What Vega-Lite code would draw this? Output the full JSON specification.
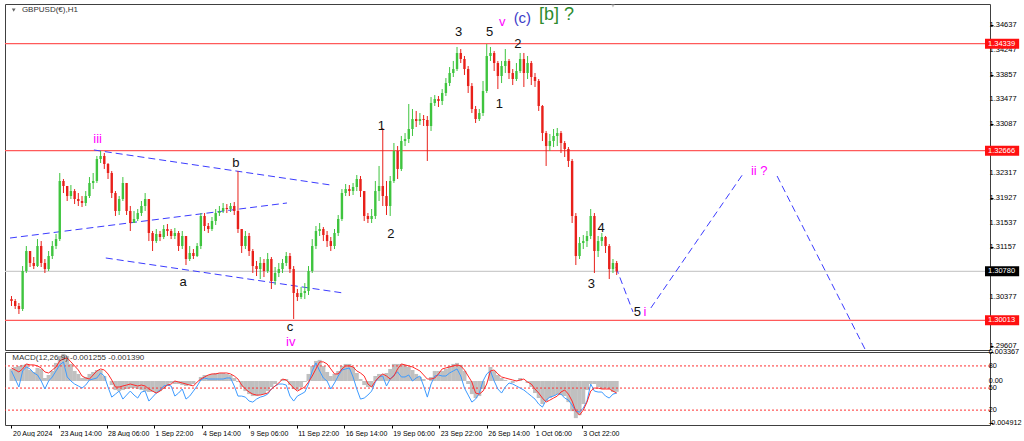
{
"$schema": "https://vega.github.io/schema/vega-lite/v6.json",
"background": "white",
"padding": {"left": 3, "top": 3, "right": 0, "bottom": 0},
"spacing": 2,
"bounds": "flush",
"config": {"view": {"stroke": "#404040", "strokeWidth": 1}, "font": "Liberation Sans",
"axis": {"title": null, "domain": false, "grid": false, "tickSize": 3, "tickColor": "#000000", "labelFontSize": 7.5, "labelColor": "#000000", "labelFont": "Liberation Sans", "zindex": 0}},
"datasets": {
"px": [
{"i":0,"o":1.30346,"h":1.30393,"l":1.30237,"c":1.30315,"m":0.0014,"s":0.00152,"b":0.00117},
{"i":5,"o":1.30315,"h":1.30346,"l":1.3019,"c":1.30237,"m":0.00163,"s":0.00128,"b":0.00023},
{"i":10,"o":1.30237,"h":1.30284,"l":1.30112,"c":1.3019,"m":0.00175,"s":0.00105,"b":-0.0007},
{"i":15,"o":1.3019,"h":1.30862,"l":1.30159,"c":1.30784,"m":0.00187,"s":0.0014,"b":0.00117},
{"i":20,"o":1.30784,"h":1.31175,"l":1.30753,"c":1.31097,"m":0.00198,"s":0.00198,"b":0.00163},
{"i":25,"o":1.31097,"h":1.31097,"l":1.30847,"c":1.3091,"m":0.00128,"s":0.00187,"b":0.0014},
{"i":30,"o":1.3091,"h":1.31003,"l":1.30815,"c":1.30862,"m":0.00105,"s":0.00187,"b":0.00093},
{"i":35,"o":1.30862,"h":1.31284,"l":1.30847,"c":1.31175,"m":0.00152,"s":0.00175,"b":0.0007},
{"i":40,"o":1.31175,"h":1.31253,"l":1.30847,"c":1.3091,"m":0.0014,"s":0.00152,"b":0},
{"i":45,"o":1.3091,"h":1.30972,"l":1.30753,"c":1.30815,"m":0.00035,"s":0.00105,"b":-0.00093},
{"i":50,"o":1.30815,"h":1.31097,"l":1.30784,"c":1.31019,"m":0.0007,"s":0.00093,"b":0},
{"i":55,"o":1.31019,"h":1.31253,"l":1.30972,"c":1.31175,"m":0.00117,"s":0.00128,"b":0.00047},
{"i":60,"o":1.31175,"h":1.31363,"l":1.31128,"c":1.31284,"m":0.0021,"s":0.00163,"b":0.00117},
{"i":65,"o":1.31284,"h":1.32317,"l":1.31253,"c":1.32192,"m":0.00292,"s":0.00233,"b":0.00187},
{"i":70,"o":1.32192,"h":1.32223,"l":1.32004,"c":1.32114,"m":0.00315,"s":0.00257,"b":0.00222},
{"i":75,"o":1.32114,"h":1.32114,"l":1.31879,"c":1.31957,"m":0.00292,"s":0.00268,"b":0.00047},
{"i":80,"o":1.31957,"h":1.32129,"l":1.3191,"c":1.32035,"m":0.00198,"s":0.00222,"b":0},
{"i":85,"o":1.32035,"h":1.32066,"l":1.31832,"c":1.3191,"m":0.00117,"s":0.00175,"b":-0.00035},
{"i":90,"o":1.3191,"h":1.32004,"l":1.31801,"c":1.31879,"m":0.00082,"s":0.00128,"b":-0.00058},
{"i":95,"o":1.31879,"h":1.31957,"l":1.31785,"c":1.31848,"m":0.00035,"s":0.00058,"b":-0.00082},
{"i":100,"o":1.31848,"h":1.32035,"l":1.31801,"c":1.31957,"m":0.00047,"s":0.00035,"b":-0.00047},
{"i":105,"o":1.31957,"h":1.32254,"l":1.31926,"c":1.32161,"m":0.00082,"s":0.00023,"b":0.00012},
{"i":110,"o":1.32161,"h":1.32317,"l":1.32066,"c":1.32192,"m":0.00105,"s":0.0007,"b":0.00023},
{"i":115,"o":1.32192,"h":1.32583,"l":1.32161,"c":1.32536,"m":0.00128,"s":0.00117,"b":0.00035},
{"i":120,"o":1.32536,"h":1.32661,"l":1.32473,"c":1.32583,"m":0.00128,"s":0.0014,"b":0.00093},
{"i":125,"o":1.32583,"h":1.3263,"l":1.3238,"c":1.32458,"m":0.00058,"s":0.00128,"b":0.00058},
{"i":130,"o":1.32458,"h":1.32473,"l":1.32223,"c":1.32317,"m":0,"s":0.00082,"b":-0.0007},
{"i":135,"o":1.32317,"h":1.32348,"l":1.31926,"c":1.32004,"m":-0.00047,"s":0.00012,"b":-0.00187},
{"i":140,"o":1.32004,"h":1.32035,"l":1.31645,"c":1.31723,"m":-0.00105,"s":-0.0007,"b":-0.00152},
{"i":145,"o":1.31723,"h":1.31957,"l":1.3166,"c":1.3191,"m":-0.00117,"s":-0.0007,"b":-0.00117},
{"i":150,"o":1.3191,"h":1.32254,"l":1.31879,"c":1.32161,"m":-0.00105,"s":-0.00058,"b":-0.0021},
{"i":155,"o":1.32161,"h":1.32161,"l":1.3166,"c":1.31723,"m":-0.00093,"s":-0.00047,"b":-0.00163},
{"i":160,"o":1.31723,"h":1.31801,"l":1.3141,"c":1.31535,"m":-0.00082,"s":-0.00035,"b":-0.00117},
{"i":165,"o":1.31535,"h":1.31723,"l":1.31535,"c":1.31598,"m":-0.00082,"s":-0.00047,"b":-0.00163},
{"i":170,"o":1.31598,"h":1.31754,"l":1.31566,"c":1.31691,"m":-0.00093,"s":-0.00058,"b":-0.00198},
{"i":175,"o":1.31691,"h":1.31879,"l":1.31645,"c":1.31801,"m":-0.00105,"s":-0.00047,"b":-0.00128},
{"i":180,"o":1.31801,"h":1.32004,"l":1.31723,"c":1.3191,"m":-0.00117,"s":-0.00058,"b":-0.00117},
{"i":185,"o":1.3191,"h":1.3191,"l":1.31253,"c":1.31379,"m":-0.00128,"s":-0.00093,"b":-0.00233},
{"i":190,"o":1.31379,"h":1.3141,"l":1.31097,"c":1.31253,"m":-0.00128,"s":-0.00117,"b":-0.00187},
{"i":195,"o":1.31253,"h":1.31441,"l":1.31222,"c":1.31363,"m":-0.0014,"s":-0.0014,"b":-0.0014},
{"i":200,"o":1.31363,"h":1.3141,"l":1.31253,"c":1.31316,"m":-0.00117,"s":-0.00117,"b":-0.00105},
{"i":205,"o":1.31316,"h":1.31504,"l":1.31284,"c":1.31441,"m":-0.00093,"s":-0.00082,"b":-0.00058},
{"i":210,"o":1.31441,"h":1.31519,"l":1.31332,"c":1.3141,"m":-0.00058,"s":-0.00047,"b":-0.00047},
{"i":215,"o":1.3141,"h":1.31441,"l":1.31284,"c":1.31332,"m":-0.00023,"s":-0.00035,"b":-0.00058},
{"i":220,"o":1.31332,"h":1.31457,"l":1.31284,"c":1.31379,"m":-0.00035,"s":0,"b":-0.00175},
{"i":225,"o":1.31379,"h":1.3141,"l":1.31097,"c":1.31175,"m":-0.00035,"s":-0.00012,"b":-0.0014},
{"i":230,"o":1.31175,"h":1.3141,"l":1.31128,"c":1.31332,"m":-0.00047,"s":-0.00023,"b":-0.00093},
{"i":235,"o":1.31332,"h":1.31332,"l":1.30878,"c":1.30972,"m":-0.00058,"s":-0.00035,"b":-0.0021},
{"i":240,"o":1.30972,"h":1.31175,"l":1.30941,"c":1.31066,"m":-0.00047,"s":-0.00047,"b":-0.00175},
{"i":245,"o":1.31066,"h":1.31128,"l":1.30972,"c":1.31019,"m":-0.00035,"s":-0.00058,"b":-0.00117},
{"i":250,"o":1.31019,"h":1.31222,"l":1.31003,"c":1.31175,"m":0,"s":-0.00012,"b":-0.00058},
{"i":255,"o":1.31175,"h":1.31691,"l":1.31128,"c":1.31645,"m":0.00047,"s":0.00023,"b":0.00012},
{"i":260,"o":1.31645,"h":1.31691,"l":1.3141,"c":1.31488,"m":0.0007,"s":0.00047,"b":0.00035},
{"i":265,"o":1.31488,"h":1.31535,"l":1.31379,"c":1.31441,"m":0.0007,"s":0.0007,"b":0.00023},
{"i":270,"o":1.31441,"h":1.31629,"l":1.3141,"c":1.31566,"m":0.00082,"s":0.00082,"b":0.00023},
{"i":275,"o":1.31566,"h":1.31754,"l":1.31504,"c":1.31691,"m":0.00093,"s":0.00082,"b":0.00023},
{"i":280,"o":1.31691,"h":1.31801,"l":1.31645,"c":1.31723,"m":0.00093,"s":0.00093,"b":0.00023},
{"i":285,"o":1.31723,"h":1.31848,"l":1.31691,"c":1.3177,"m":0.00093,"s":0.00093,"b":0.00023},
{"i":290,"o":1.3177,"h":1.31832,"l":1.31691,"c":1.31754,"m":0.00082,"s":0.00093,"b":0.00035},
{"i":295,"o":1.31754,"h":1.31848,"l":1.31707,"c":1.31801,"m":0.0007,"s":0.00082,"b":0.00035},
{"i":300,"o":1.31801,"h":1.31863,"l":1.3166,"c":1.31723,"m":0.00035,"s":0.00058,"b":-0.00058},
{"i":305,"o":1.31723,"h":1.32348,"l":1.31379,"c":1.31441,"m":-0.00012,"s":0.00023,"b":-0.00175},
{"i":310,"o":1.31441,"h":1.31441,"l":1.31066,"c":1.31175,"m":-0.0007,"s":-0.00047,"b":-0.00175},
{"i":315,"o":1.31175,"h":1.3141,"l":1.31128,"c":1.31332,"m":-0.00117,"s":-0.00093,"b":-0.00187},
{"i":320,"o":1.31332,"h":1.31379,"l":1.31019,"c":1.31097,"m":-0.00152,"s":-0.00128,"b":-0.00233},
{"i":325,"o":1.31097,"h":1.31128,"l":1.30753,"c":1.30862,"m":-0.00175,"s":-0.00152,"b":-0.00245},
{"i":330,"o":1.30862,"h":1.30941,"l":1.30706,"c":1.30815,"m":-0.00175,"s":-0.00163,"b":-0.0021},
{"i":335,"o":1.30815,"h":1.31003,"l":1.30659,"c":1.3091,"m":-0.00163,"s":-0.00163,"b":-0.00187},
{"i":340,"o":1.3091,"h":1.30972,"l":1.3069,"c":1.30784,"m":-0.00152,"s":-0.00152,"b":-0.00175},
{"i":345,"o":1.30784,"h":1.31066,"l":1.30753,"c":1.30972,"m":-0.00117,"s":-0.0014,"b":-0.00152},
{"i":350,"o":1.30972,"h":1.31003,"l":1.30503,"c":1.30628,"m":-0.0007,"s":-0.00093,"b":-0.00093},
{"i":355,"o":1.30628,"h":1.30847,"l":1.30565,"c":1.30753,"m":-0.00035,"s":-0.00058,"b":-0.00058},
{"i":360,"o":1.30753,"h":1.3091,"l":1.3069,"c":1.30815,"m":0,"s":-0.00023,"b":-0.00035},
{"i":365,"o":1.30815,"h":1.30972,"l":1.30753,"c":1.3091,"m":0.00023,"s":0.00023,"b":-0.00035},
{"i":370,"o":1.3091,"h":1.31081,"l":1.30862,"c":1.31019,"m":0.00023,"s":0.00012,"b":-0.00047},
{"i":375,"o":1.31019,"h":1.31066,"l":1.30753,"c":1.30815,"m":-0.00047,"s":-0.00035,"b":-0.00175},
{"i":380,"o":1.30815,"h":1.30862,"l":1.30034,"c":1.3044,"m":-0.00093,"s":-0.00082,"b":-0.00233},
{"i":385,"o":1.3044,"h":1.30503,"l":1.30315,"c":1.30378,"m":-0.00105,"s":-0.00117,"b":-0.00175},
{"i":390,"o":1.30378,"h":1.30534,"l":1.30346,"c":1.3044,"m":-0.0007,"s":-0.00093,"b":-0.00152},
{"i":395,"o":1.3044,"h":1.30596,"l":1.30346,"c":1.30471,"m":-0.00012,"s":-0.0007,"b":-0.00128},
{"i":400,"o":1.30471,"h":1.30862,"l":1.30409,"c":1.30784,"m":0.00082,"s":-0.00012,"b":-0.00035},
{"i":405,"o":1.30784,"h":1.31284,"l":1.30753,"c":1.31175,"m":0.00175,"s":0.00058,"b":0.00117},
{"i":410,"o":1.31175,"h":1.31488,"l":1.31128,"c":1.3141,"m":0.00233,"s":0.0014,"b":0.0021},
{"i":415,"o":1.3141,"h":1.31535,"l":1.31332,"c":1.31441,"m":0.00245,"s":0.00222,"b":0.00117},
{"i":420,"o":1.31441,"h":1.31472,"l":1.31253,"c":1.31347,"m":0.00175,"s":0.00222,"b":0.00035},
{"i":425,"o":1.31347,"h":1.3141,"l":1.3116,"c":1.31253,"m":0.00105,"s":0.00198,"b":0},
{"i":430,"o":1.31253,"h":1.31316,"l":1.31097,"c":1.31175,"m":0.00058,"s":0.0014,"b":-0.00093},
{"i":435,"o":1.31175,"h":1.31441,"l":1.31128,"c":1.31379,"m":0.00082,"s":0.00082,"b":-0.00023},
{"i":440,"o":1.31379,"h":1.3166,"l":1.31332,"c":1.31598,"m":0.00117,"s":0.00082,"b":0.00058},
{"i":445,"o":1.31598,"h":1.32066,"l":1.31566,"c":1.32004,"m":0.00175,"s":0.0014,"b":0.00128},
{"i":450,"o":1.32004,"h":1.32145,"l":1.31957,"c":1.32066,"m":0.00198,"s":0.00175,"b":0.0014},
{"i":455,"o":1.32066,"h":1.32129,"l":1.31957,"c":1.32035,"m":0.00198,"s":0.00175,"b":0.00152},
{"i":460,"o":1.32035,"h":1.32161,"l":1.31973,"c":1.32098,"m":0.00163,"s":0.00163,"b":0.00047},
{"i":465,"o":1.32098,"h":1.32286,"l":1.32035,"c":1.32223,"m":0.00093,"s":0.00117,"b":-0.00093},
{"i":470,"o":1.32223,"h":1.3227,"l":1.31941,"c":1.32035,"m":0.00023,"s":0.00093,"b":-0.0021},
{"i":475,"o":1.32035,"h":1.32035,"l":1.31566,"c":1.31645,"m":-0.00047,"s":0.00058,"b":-0.00198},
{"i":480,"o":1.31645,"h":1.31691,"l":1.31535,"c":1.31598,"m":-0.0007,"s":-0.00035,"b":-0.00163},
{"i":485,"o":1.31598,"h":1.31754,"l":1.31535,"c":1.31645,"m":-0.0007,"s":-0.0007,"b":-0.00117},
{"i":490,"o":1.31645,"h":1.32192,"l":1.31598,"c":1.32035,"m":0.00058,"s":0,"b":-0.00012},
{"i":495,"o":1.32035,"h":1.32427,"l":1.31879,"c":1.32114,"m":0.00082,"s":0.00047,"b":0.00047},
{"i":500,"o":1.32114,"h":1.33021,"l":1.31801,"c":1.31957,"m":0.00082,"s":0.00082,"b":0.00058},
{"i":505,"o":1.31957,"h":1.32192,"l":1.3166,"c":1.31801,"m":0.00093,"s":0.00058,"b":-0.00058},
{"i":510,"o":1.31801,"h":1.3227,"l":1.31645,"c":1.32192,"m":0.0014,"s":0.00023,"b":0.00023},
{"i":515,"o":1.32192,"h":1.32786,"l":1.32161,"c":1.32661,"m":0.00198,"s":0.00058,"b":0.0007},
{"i":520,"o":1.32661,"h":1.32739,"l":1.32223,"c":1.3238,"m":0.00198,"s":0.0014,"b":0.00105},
{"i":525,"o":1.3238,"h":1.32896,"l":1.32348,"c":1.32817,"m":0.00198,"s":0.00198,"b":0.00047},
{"i":530,"o":1.32817,"h":1.32942,"l":1.32739,"c":1.32849,"m":0.00187,"s":0.00187,"b":0.00047},
{"i":535,"o":1.32849,"h":1.33396,"l":1.32786,"c":1.33005,"m":0.00163,"s":0.00175,"b":0.0007},
{"i":540,"o":1.33005,"h":1.33318,"l":1.32896,"c":1.33161,"m":0.00128,"s":0.00163,"b":0},
{"i":545,"o":1.33161,"h":1.33287,"l":1.33036,"c":1.3313,"m":0.00082,"s":0.0014,"b":0.00035},
{"i":550,"o":1.3313,"h":1.33255,"l":1.33068,"c":1.33161,"m":0.00047,"s":0.00117,"b":0.00058},
{"i":555,"o":1.33161,"h":1.33224,"l":1.33052,"c":1.33146,"m":0.00023,"s":0.0007,"b":-0.00058},
{"i":560,"o":1.33146,"h":1.33208,"l":1.32505,"c":1.33052,"m":0,"s":0.00023,"b":-0.00187},
{"i":565,"o":1.33052,"h":1.33505,"l":1.32974,"c":1.33411,"m":0.00047,"s":0.00023,"b":-0.00035},
{"i":570,"o":1.33411,"h":1.33536,"l":1.33365,"c":1.33474,"m":0.00117,"s":0.00035,"b":0.00058},
{"i":575,"o":1.33474,"h":1.33521,"l":1.33349,"c":1.33443,"m":0.00117,"s":0.00082,"b":0.0007},
{"i":580,"o":1.33443,"h":1.3363,"l":1.3338,"c":1.33568,"m":0.00117,"s":0.0014,"b":0.00058},
{"i":585,"o":1.33568,"h":1.33802,"l":1.33521,"c":1.33724,"m":0.0014,"s":0.00152,"b":0.00058},
{"i":590,"o":1.33724,"h":1.33974,"l":1.33677,"c":1.33881,"m":0.00175,"s":0.00163,"b":0.00093},
{"i":595,"o":1.33881,"h":1.34069,"l":1.33818,"c":1.33943,"m":0.00198,"s":0.00175,"b":0.00117},
{"i":600,"o":1.33943,"h":1.34288,"l":1.33912,"c":1.34194,"m":0.0021,"s":0.00187,"b":0.0014},
{"i":605,"o":1.34194,"h":1.34256,"l":1.34037,"c":1.341,"m":0.00187,"s":0.00175,"b":0.00058},
{"i":610,"o":1.341,"h":1.34147,"l":1.3385,"c":1.33943,"m":0.00117,"s":0.00128,"b":-0.00082},
{"i":615,"o":1.33943,"h":1.3399,"l":1.33568,"c":1.33677,"m":-0.00035,"s":0.00058,"b":-0.00163},
{"i":620,"o":1.33677,"h":1.33724,"l":1.33255,"c":1.33318,"m":-0.00152,"s":-0.00012,"b":-0.00245},
{"i":625,"o":1.33318,"h":1.33365,"l":1.33099,"c":1.33161,"m":-0.00198,"s":-0.0014,"b":-0.0021},
{"i":630,"o":1.33161,"h":1.33318,"l":1.3313,"c":1.33255,"m":-0.00175,"s":-0.00152,"b":-0.0014},
{"i":635,"o":1.33255,"h":1.33756,"l":1.33208,"c":1.33599,"m":-0.00093,"s":-0.00117,"b":0},
{"i":640,"o":1.33599,"h":1.34334,"l":1.33568,"c":1.34147,"m":0,"s":-0.00035,"b":0.00082},
{"i":645,"o":1.34147,"h":1.34288,"l":1.34069,"c":1.34194,"m":0.00163,"s":0.00117,"b":0.00117},
{"i":650,"o":1.34194,"h":1.34225,"l":1.33912,"c":1.34037,"m":0.00117,"s":0.00128,"b":0},
{"i":655,"o":1.34037,"h":1.34069,"l":1.3363,"c":1.33834,"m":0.0007,"s":0.00082,"b":-0.00093},
{"i":660,"o":1.33834,"h":1.34069,"l":1.33724,"c":1.3399,"m":0.00035,"s":0.00047,"b":-0.0014},
{"i":665,"o":1.3399,"h":1.34256,"l":1.33881,"c":1.34069,"m":0.00012,"s":0.00035,"b":-0.0007},
{"i":670,"o":1.34069,"h":1.341,"l":1.33787,"c":1.33881,"m":0,"s":0.00023,"b":-0.00023},
{"i":675,"o":1.33881,"h":1.33943,"l":1.33693,"c":1.33787,"m":-0.00023,"s":0.00012,"b":-0.00035},
{"i":680,"o":1.33787,"h":1.34037,"l":1.33756,"c":1.33912,"m":0.00012,"s":0,"b":-0.00058},
{"i":685,"o":1.33912,"h":1.34194,"l":1.33881,"c":1.341,"m":0.00035,"s":0.00012,"b":-0.00082},
{"i":690,"o":1.341,"h":1.34194,"l":1.33662,"c":1.33881,"m":0,"s":0.00023,"b":-0.00105},
{"i":695,"o":1.33881,"h":1.34147,"l":1.33787,"c":1.34037,"m":-0.00023,"s":-0.00012,"b":-0.0014},
{"i":700,"o":1.34037,"h":1.34069,"l":1.33693,"c":1.33818,"m":-0.0007,"s":-0.00035,"b":-0.00175},
{"i":705,"o":1.33818,"h":1.33881,"l":1.33662,"c":1.33756,"m":-0.0014,"s":-0.00093,"b":-0.0021},
{"i":710,"o":1.33756,"h":1.33787,"l":1.33287,"c":1.33365,"m":-0.00198,"s":-0.0014,"b":-0.00268},
{"i":715,"o":1.33365,"h":1.3338,"l":1.32817,"c":1.32942,"m":-0.00268,"s":-0.00198,"b":-0.00303},
{"i":720,"o":1.32942,"h":1.32974,"l":1.32427,"c":1.32739,"m":-0.00233,"s":-0.00245,"b":-0.00222},
{"i":725,"o":1.32739,"h":1.32927,"l":1.32661,"c":1.32817,"m":-0.00198,"s":-0.00222,"b":-0.00187},
{"i":730,"o":1.32817,"h":1.33005,"l":1.32723,"c":1.32896,"m":-0.00175,"s":-0.00198,"b":-0.00175},
{"i":735,"o":1.32896,"h":1.33021,"l":1.32739,"c":1.32942,"m":-0.00152,"s":-0.00175,"b":-0.00152},
{"i":740,"o":1.32942,"h":1.32974,"l":1.3263,"c":1.32786,"m":-0.00163,"s":-0.00128,"b":-0.00152},
{"i":745,"o":1.32786,"h":1.32817,"l":1.32567,"c":1.32692,"m":-0.00175,"s":-0.00105,"b":-0.00198},
{"i":750,"o":1.32692,"h":1.32723,"l":1.32411,"c":1.32505,"m":-0.00245,"s":-0.00152,"b":-0.00222},
{"i":755,"o":1.32505,"h":1.32536,"l":1.31535,"c":1.31645,"m":-0.0035,"s":-0.00233,"b":-0.0028},
{"i":760,"o":1.31645,"h":1.31691,"l":1.30878,"c":1.31019,"m":-0.00431,"s":-0.0035,"b":-0.0035},
{"i":765,"o":1.31019,"h":1.31316,"l":1.30972,"c":1.31222,"m":-0.00396,"s":-0.00396,"b":-0.00361},
{"i":770,"o":1.31222,"h":1.31347,"l":1.31128,"c":1.31253,"m":-0.00268,"s":-0.00338,"b":-0.00315},
{"i":775,"o":1.31253,"h":1.3141,"l":1.3116,"c":1.31332,"m":-0.00105,"s":-0.00245,"b":-0.00233},
{"i":780,"o":1.31332,"h":1.31754,"l":1.31284,"c":1.31645,"m":-0.00035,"s":-0.00117,"b":-0.00035},
{"i":785,"o":1.31645,"h":1.31691,"l":1.30753,"c":1.31097,"m":-0.00035,"s":-0.00082,"b":-0.00117},
{"i":790,"o":1.31097,"h":1.31332,"l":1.31003,"c":1.31253,"m":-0.0007,"s":-0.00082,"b":-0.00128},
{"i":795,"o":1.31253,"h":1.31379,"l":1.31175,"c":1.31316,"m":-0.00093,"s":-0.00093,"b":-0.00128},
{"i":800,"o":1.31316,"h":1.31332,"l":1.31066,"c":1.31175,"m":-0.00082,"s":-0.00093,"b":-0.00175},
{"i":805,"o":1.31175,"h":1.31206,"l":1.30659,"c":1.30815,"m":-0.00093,"s":-0.00093,"b":-0.00198},
{"i":810,"o":1.30815,"h":1.30972,"l":1.30753,"c":1.3091,"m":-0.00128,"s":-0.00117,"b":-0.00152},
{"i":815,"o":1.3091,"h":1.30941,"l":1.30722,"c":1.3078,"m":-0.001255,"s":-0.00139,"b":-0.0014}
],
"lines": [
{"seg":"A","i":111,"p":1.32677},{"seg":"A","i":430,"p":1.32129},
{"seg":"B","i":-2,"p":1.313},{"seg":"B","i":371,"p":1.31848},
{"seg":"C","i":127,"p":1.30988},{"seg":"C","i":447,"p":1.3044},
{"seg":"D","i":814,"p":1.30845},{"seg":"D","i":837,"p":1.30143},
{"seg":"E","i":861,"p":1.30206},{"seg":"E","i":985,"p":1.32301},
{"seg":"F","i":1031,"p":1.3227},{"seg":"F","i":1150,"p":1.29549}
],
"levels": [
{"p":1.34339,"t":"1.34339","kind":"level"},
{"p":1.32666,"t":"1.32666","kind":"level"},
{"p":1.30013,"t":"1.30013","kind":"level"},
{"p":1.3078,"t":"1.30780","kind":"bid"}
],
"yt": [
{"p":1.29607,"t":"1.29607"},{"p":1.30377,"t":"1.30377"},{"p":1.31157,"t":"1.31157"},
{"p":1.31537,"t":"1.31537"},{"p":1.31927,"t":"1.31927"},{"p":1.32317,"t":"1.32317"},
{"p":1.33087,"t":"1.33087"},{"p":1.33477,"t":"1.33477"},{"p":1.33857,"t":"1.33857"},
{"p":1.34247,"t":"1.34247"},{"p":1.34637,"t":"1.34637"}
],
"mtk": [
{"v":0.003367,"t":"0.003367","pos":"top"},{"v":0.00175,"t":"80","pos":"mid"},
{"v":0,"t":"0.00","pos":"mid"},{"v":-0.00082,"t":"50","pos":"mid"},
{"v":-0.00338,"t":"20","pos":"mid"},{"v":-0.004912,"t":"-0.004912","pos":"bottom"}
],
"wl": [
{"t":"iii","i":116,"p":1.32849,"kind":"m"},
{"t":"b","i":302,"p":1.32473,"kind":"k"},
{"t":"a","i":231,"p":1.30612,"kind":"k"},
{"t":"c","i":375,"p":1.29915,"kind":"k"},
{"t":"iv","i":376,"p":1.29675,"kind":"m"},
{"t":"1","i":498,"p":1.33052,"kind":"k"},
{"t":"2","i":511,"p":1.31363,"kind":"k"},
{"t":"3","i":602,"p":1.34522,"kind":"k"},
{"t":"5","i":644,"p":1.34522,"kind":"k"},
{"t":"v","i":661,"p":1.34683,"kind":"m"},
{"t":"(c)","i":688,"p":1.34736,"kind":"c"},
{"t":"[b] ?","i":734,"p":1.34788,"kind":"g"},
{"t":"2","i":682,"p":1.34335,"kind":"k"},
{"t":"1","i":657,"p":1.33396,"kind":"k"},
{"t":"4","i":794,"p":1.31457,"kind":"k"},
{"t":"3","i":781,"p":1.30581,"kind":"k"},
{"t":"5","i":843,"p":1.30143,"kind":"k"},
{"t":"i","i":853,"p":1.30143,"kind":"m"},
{"t":"ii ?","i":1007,"p":1.32348,"kind":"m"}
],
"ann": [{"t":"GBPUSD(€),H1","i":14,"p":1.34866}],
"tri": [{"i":3,"p":1.34866,"kind":"k"},{"i":810,"p":1.34929,"kind":"g"}],
"lv": [{"v":0.00175},{"v":-0.00082},{"v":-0.00338}],
"mt": [{"t":"MACD(12,26,9) -0.001255 -0.001390","i":1,"v":0.00268}]
},
"vconcat": [
{
"width": 985, "height": 346,
"layer": [
{"data":{"name":"levels"},"mark":{"type":"rule","strokeWidth":1.2},
"encoding":{"y":{"field":"p","type":"quantitative","scale":{"domain":[1.29549,1.3496],"nice":false,"zero":false}},
"color":{"condition":{"test":"datum.kind == 'bid'","value":"#cccccc"},"value":"#ff5a5a"}}},
{"data":{"name":"lines"},"mark":{"type":"line","strokeDash":[7,4],"strokeWidth":1,"color":"#3c3cff","clip":true},
"encoding":{"x":{"field":"i","type":"quantitative","scale":{"domain":[-2,1311],"nice":false,"zero":false},"axis":null},
"y":{"field":"p","type":"quantitative","scale":{"domain":[1.29549,1.3496],"nice":false,"zero":false}},
"detail":{"field":"seg","type":"nominal"}}},
{"data":{"name":"px"},"mark":{"type":"rule","strokeWidth":1},
"encoding":{"x":{"field":"i","type":"quantitative","scale":{"domain":[-2,1311],"nice":false,"zero":false},"axis":null},
"y":{"field":"l","type":"quantitative","scale":{"domain":[1.29549,1.3496],"nice":false,"zero":false},
"axis":{"orient":"right","values":[1.29607,1.30377,1.31157,1.31537,1.31927,1.32317,1.33087,1.33477,1.33857,1.34247,1.34637],"labels":false}},
"y2":{"field":"h"},
"color":{"condition":{"test":"datum.c >= datum.o","value":"#3fc43f"},"value":"#e8201a"}}},
{"data":{"name":"px"},"mark":{"type":"bar","size":2.4},
"encoding":{"x":{"field":"i","type":"quantitative","scale":{"domain":[-2,1311],"nice":false,"zero":false},"axis":null},
"y":{"field":"o","type":"quantitative","scale":{"domain":[1.29549,1.3496],"nice":false,"zero":false}},
"y2":{"field":"c"},
"color":{"condition":{"test":"datum.c >= datum.o","value":"#3fc43f"},"value":"#e8201a"}}},
{"data":{"name":"wl"},"mark":{"type":"text","align":"center","baseline":"middle","font":"Liberation Sans"},
"encoding":{"x":{"field":"i","type":"quantitative","scale":{"domain":[-2,1311],"nice":false,"zero":false},"axis":null},
"y":{"field":"p","type":"quantitative","scale":{"domain":[1.29549,1.3496],"nice":false,"zero":false}},
"text":{"field":"t"},
"color":{"condition":[{"test":"datum.kind == 'm'","value":"#ff00ff"},{"test":"datum.kind == 'c'","value":"#3c3cc8"},{"test":"datum.kind == 'g'","value":"#2e8b2e"}],"value":"#111111"},
"size":{"condition":[{"test":"datum.kind == 'g'","value":18},{"test":"datum.kind == 'c'","value":15}],"value":13}}},
{"data":{"name":"yt"},"mark":{"type":"text","align":"left","baseline":"middle","fontSize":7.5,"color":"#000000","font":"Liberation Sans"},
"encoding":{"x":{"datum":1317,"type":"quantitative","scale":{"domain":[-2,1311],"nice":false,"zero":false},"axis":null},
"y":{"field":"p","type":"quantitative","scale":{"domain":[1.29549,1.3496],"nice":false,"zero":false}},
"text":{"field":"t"}}},
{"data":{"name":"levels"},"mark":{"type":"rule","strokeWidth":10,"strokeCap":"butt"},
"encoding":{"x":{"datum":1311,"type":"quantitative","scale":{"domain":[-2,1311],"nice":false,"zero":false},"axis":null},
"x2":{"datum":1357},
"y":{"field":"p","type":"quantitative","scale":{"domain":[1.29549,1.3496],"nice":false,"zero":false}},
"color":{"condition":{"test":"datum.kind == 'bid'","value":"#000000"},"value":"#ff1010"}}},
{"data":{"name":"levels"},"mark":{"type":"text","align":"left","baseline":"middle","fontSize":7.5,"color":"#ffffff","font":"Liberation Sans"},
"encoding":{"x":{"datum":1315,"type":"quantitative","scale":{"domain":[-2,1311],"nice":false,"zero":false},"axis":null},
"y":{"field":"p","type":"quantitative","scale":{"domain":[1.29549,1.3496],"nice":false,"zero":false}},
"text":{"field":"t"}}},
{"data":{"name":"ann"},"mark":{"type":"text","align":"left","baseline":"middle","fontSize":8,"color":"#333333","font":"Liberation Sans"},
"encoding":{"x":{"field":"i","type":"quantitative","scale":{"domain":[-2,1311],"nice":false,"zero":false},"axis":null},
"y":{"field":"p","type":"quantitative","scale":{"domain":[1.29549,1.3496],"nice":false,"zero":false}},
"text":{"field":"t"}}},
{"data":{"name":"tri"},"mark":{"type":"point","shape":"triangle-down","filled":true,"size":14},
"encoding":{"x":{"field":"i","type":"quantitative","scale":{"domain":[-2,1311],"nice":false,"zero":false},"axis":null},
"y":{"field":"p","type":"quantitative","scale":{"domain":[1.29549,1.3496],"nice":false,"zero":false}},
"color":{"condition":{"test":"datum.kind == 'k'","value":"#222222"},"value":"#a0a0a0"}}}
]
},
{
"width": 985, "height": 73,
"layer": [
{"data":{"name":"px"},"mark":{"type":"bar","size":4,"color":"#c0c0c0"},
"encoding":{"x":{"field":"i","type":"quantitative","scale":{"domain":[-2,1311],"nice":false,"zero":false},
"axis":{"orient":"bottom","values":[0,64,128,192,256,320,384,448,512,576,640,704,768],"labelExpr":"['20 Aug 2024','23 Aug 14:00','28 Aug 06:00','1 Sep 22:00','4 Sep 14:00','9 Sep 06:00','11 Sep 22:00','16 Sep 14:00','19 Sep 06:00','23 Sep 22:00','26 Sep 14:00','1 Oct 06:00','3 Oct 22:00'][round(datum.value/64)]","labelAlign":"left","labelOffset":1,"labelPadding":1,"labelFontSize":7,"labelOverlap":false}},
"y":{"field":"m","type":"quantitative","scale":{"domain":[-0.005108,0.003367],"nice":false,"zero":false},
"axis":{"orient":"right","values":[0.003367,0.00175,0,-0.00082,-0.00338,-0.004912],"labels":false}},
"y2":{"datum":0}}},
{"data":{"name":"lv"},"mark":{"type":"rule","strokeDash":[2,2],"strokeWidth":1,"color":"#ff3030"},
"encoding":{"y":{"field":"v","type":"quantitative","scale":{"domain":[-0.005108,0.003367],"nice":false,"zero":false}}}},
{"data":{"name":"px"},"mark":{"type":"line","strokeWidth":1,"color":"#3d9bff"},
"encoding":{"x":{"field":"i","type":"quantitative","scale":{"domain":[-2,1311],"nice":false,"zero":false}},
"y":{"field":"b","type":"quantitative","scale":{"domain":[-0.005108,0.003367],"nice":false,"zero":false}}}},
{"data":{"name":"px"},"mark":{"type":"line","strokeWidth":1,"color":"#ff2a2a"},
"encoding":{"x":{"field":"i","type":"quantitative","scale":{"domain":[-2,1311],"nice":false,"zero":false}},
"y":{"field":"s","type":"quantitative","scale":{"domain":[-0.005108,0.003367],"nice":false,"zero":false}}}},
{"data":{"name":"mtk"},"mark":{"type":"text","align":"left","baseline":"middle","fontSize":7.3,"color":"#000000","font":"Liberation Sans"},
"encoding":{"x":{"datum":1316,"type":"quantitative","scale":{"domain":[-2,1311],"nice":false,"zero":false}},
"y":{"field":"v","type":"quantitative","scale":{"domain":[-0.005108,0.003367],"nice":false,"zero":false}},
"yOffset":{"condition":[{"test":"datum.pos == 'top'","value":4},{"test":"datum.pos == 'bottom'","value":-3}],"value":0},
"text":{"field":"t"}}},
{"data":{"name":"mt"},"mark":{"type":"text","align":"left","baseline":"middle","fontSize":8,"color":"#333333","font":"Liberation Sans"},
"encoding":{"x":{"field":"i","type":"quantitative","scale":{"domain":[-2,1311],"nice":false,"zero":false}},
"y":{"field":"v","type":"quantitative","scale":{"domain":[-0.005108,0.003367],"nice":false,"zero":false}},
"text":{"field":"t"}}}
]
}
]
}
